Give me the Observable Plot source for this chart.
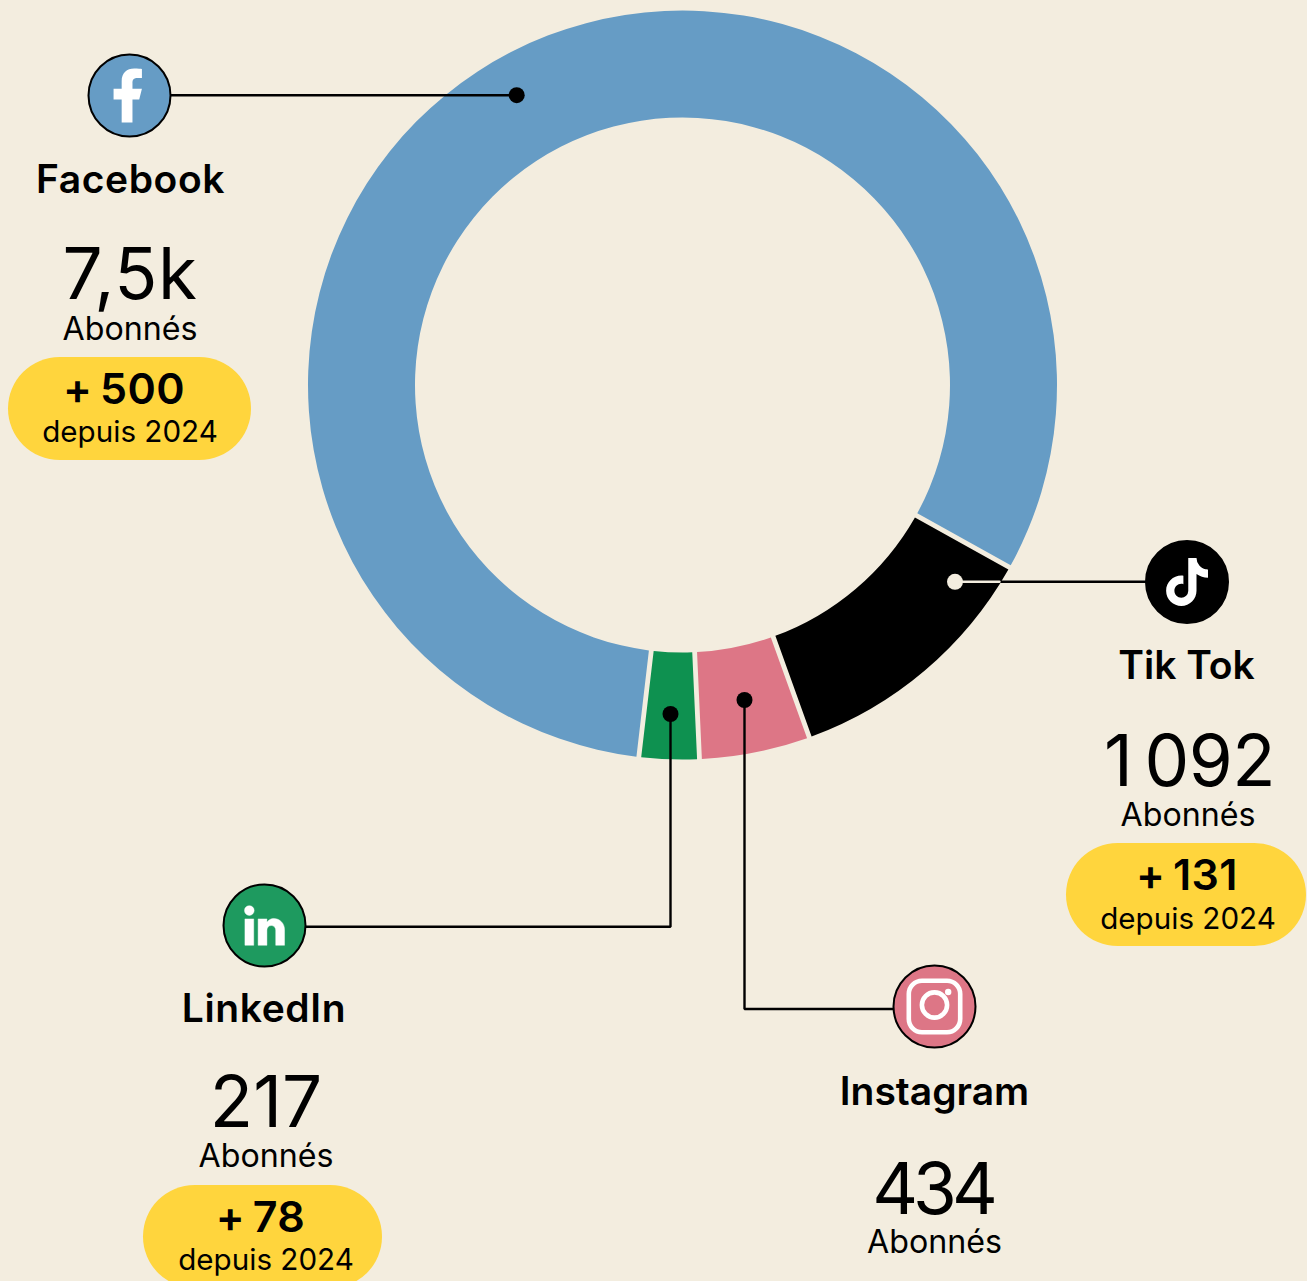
<!DOCTYPE html>
<html lang="fr">
<head>
<meta charset="utf-8">
<title>Abonnés par réseau social</title>
<script src="https://cdn.jsdelivr.net/npm/d3@7"></script>
<script src="https://cdn.jsdelivr.net/npm/@observablehq/plot@0.6"></script>
<style>
  html, body { margin: 0; padding: 0; background: #f3eddf; overflow: hidden; }
  svg { display: block; }
</style>
</head>
<body>
<div id="chart"></div>
<script>
// --- Data ---
const networks = ["Tik Tok", "Instagram", "LinkedIn", "Facebook"];
const subscribers = [1092, 434, 217, 7500];
const subscriberLabels = ["1\u2009092", "434", "217", "7,5k"];
// Share of the ring each network occupies (degrees)
const ringDegrees = [41.05, 17.2, 9.3, 292.45];
const gains = ["+\u2009131", null, "+\u200978", "+\u2009500"];
const unitLabel = "Abonnés";
const sinceLabel = "depuis 2024";

// --- Styles ---
const bg = "#f3eddf";
const ink = "#000000";
const yellow = "#ffd53d";
const sliceColors = ["#000000", "#dd7686", "#0e9150", "#669cc5"];
const iconColors = ["#000000", "#dd7686", "#1e9a5f", "#669cc5"];
const fontFamily = "Inter, 'Liberation Sans', sans-serif";
const titleTracking = [0, 0, 0.6, 0.6];
const numberTracking = [-0.6, -5, 0, 0.5];

// --- Layout (page units) ---
const W = 1307, H = 1281;
const donut = {cx: 682.5, cy: 385, outer: 374.5, inner: 267.5, start: 119.15};
const anchors = [
  {titleX: 1186.5, numberX: 1189.5, unitX: 1188, gainX: 1187, sinceX: 1188, icon: [1187, 582],     title: 679,    number: 786,  unit: 826,   gain: 889.5, since: 929,  pill: [1066.5, 1306.5, 843.5, 946.5]},
  {titleX: 934.5, numberX: 932.5, unitX: 934.5, icon: [934.5, 1006.5], title: 1105,   number: 1214, unit: 1253},
  {titleX: 264, numberX: 266, unitX: 266, gainX: 260.5, sinceX: 266, icon: [264.5, 925.5],  title: 1021.5, number: 1127, unit: 1167,  gain: 1232, since: 1270, pill: [143.5, 382.5, 1185.5, 1288.5]},
  {titleX: 130.5, numberX: 130, unitX: 130, gainX: 124, sinceX: 130, icon: [129.5, 95.5],   title: 192.5,  number: 299,  unit: 339.5, gain: 404,  since: 442,  pill: [8.5, 251.5, 357.5, 460.5]}
];
const leaders = [
  {net: "Tik Tok",   color: ink, pts: [[999.5, 581.8], [1145, 581.8]]},
  {net: "Tik Tok",   color: bg,  pts: [[955, 581.8], [999.5, 581.8]]},
  {net: "Instagram", color: ink, pts: [[744.5, 700], [744.5, 1009], [893, 1009]]},
  {net: "LinkedIn",  color: ink, pts: [[670.5, 714], [670.5, 926.8], [306, 926.8]]},
  {net: "Facebook",  color: ink, pts: [[171, 95.2], [517, 95.2]]}
];
const leaderDots = [
  {x: 955, y: 581.8, fill: bg},
  {x: 744.5, y: 700, fill: ink},
  {x: 670.5, y: 714, fill: ink},
  {x: 516.7, y: 95.2, fill: ink}
];
const glyphs = [
  {i: 0, scale: 2.67, at: [11.98, 12], parts: [{d: "M16.6 5.82s.51.5 0 0A4.278 4.278 0 0 1 15.54 3h-3.09v12.4a2.592 2.592 0 0 1-2.59 2.5c-1.42 0-2.6-1.16-2.6-2.6c0-1.72 1.66-3.01 3.37-2.48V9.66c-3.45-.46-6.47 2.22-6.47 5.64c0 3.33 2.76 5.7 5.69 5.7c3.14 0 5.69-2.55 5.69-5.7V9.01a7.35 7.35 0 0 0 4.3 1.38V7.3s-1.88.09-3.24-1.48z"}]},
  {i: 1, scale: 1, at: [0, 0], parts: [
    {d: "M-12.5 -25.7H12.5A13.2 13.2 0 0 1 25.7 -12.5V12.5A13.2 13.2 0 0 1 12.5 25.7H-12.5A13.2 13.2 0 0 1 -25.7 12.5V-12.5A13.2 13.2 0 0 1 -12.5 -25.7Z", stroke: 4.6},
    {d: "M-12.6 -1.5A12.6 12.6 0 1 0 12.6 -1.5A12.6 12.6 0 1 0 -12.6 -1.5Z", stroke: 4.6},
    {d: "M10.5 -14.5A3.2 3.2 0 1 0 16.9 -14.5A3.2 3.2 0 1 0 10.5 -14.5Z"}
  ]},
  {i: 2, scale: 2.2, at: [11.9, 12], parts: [{d: "M21 21h-4v-7c0-1.1-.9-2-2-2s-2 .9-2 2v7H9V9h4v1.5c.7-1 1.9-1.7 3-1.7 2.8 0 5 2.2 5 5V21zM3 9h4v12H3zM5 3a2.2 2.2 0 1 1 0 4.4A2.2 2.2 0 0 1 5 3z", stroke: 0.2}]},
  {i: 3, scale: 2.7, at: [12.9, 12], parts: [{d: "M14 13.5h2.5l1-4H14v-2c0-1.03 0-2 2-2h1.5V2.14c-.326-.043-1.557-.14-2.857-.14C11.928 2 10 3.657 10 6.7v2.8H7v4h3V22h4v-8.5z"}]}
];

// --- Tables built from the lists ---
const idx = d3.range(networks.length);
const slices = d3.pie().sort(null).value(i => ringDegrees[i])
  .startAngle(donut.start * Math.PI / 180)
  .endAngle((donut.start + 360) * Math.PI / 180)(idx);
const leaderRows = leaders.flatMap((l, k) => l.pts.map(([x, y]) => ({k, x, y, color: l.color})));
const withGain = idx.filter(i => gains[i]);

// --- Custom marks using Plot's scales (Plot's half-pixel offset is added back by hand) ---
const donutMark = (index, {x, y}) => {
  const g = d3.create("svg:g");
  const rx = r => x(donut.cx + r) - x(donut.cx);
  const arc = d3.arc().innerRadius(rx(donut.inner)).outerRadius(rx(donut.outer))
    .padRadius(320).padAngle(4.8 / 320);
  g.attr("transform", `translate(${x(donut.cx) + 0.5},${y(donut.cy) + 0.5})`)
    .selectAll("path").data(slices).join("path")
    .attr("d", arc).attr("fill", d => sliceColors[d.data])
    .append("title").text(d => `${networks[d.data]} : ${subscribers[d.data]}`);
  return g.node();
};
const glyphMark = (index, {x, y}) => {
  const g = d3.create("svg:g");
  for (const s of glyphs) {
    const [ax, ay] = anchors[s.i].icon;
    const t = g.append("g")
      .attr("transform", `translate(${x(ax) + 0.5},${y(ay) + 0.5}) scale(${s.scale}) translate(${-s.at[0]},${-s.at[1]})`);
    for (const p of s.parts) {
      const outlined = p.stroke && s.i === 1;
      t.append("path").attr("d", p.d)
        .attr("fill", outlined ? "none" : "#fff")
        .attr("stroke", p.stroke ? "#fff" : "none")
        .attr("stroke-width", p.stroke || 0)
        .attr("stroke-linejoin", "round");
    }
  }
  return g.node();
};

const textMark = (rows, field, xField, text, size, weight, className) =>
  Plot.text(rows, {
    x: i => anchors[i][xField],
    y: i => anchors[i][field],
    text,
    fontSize: size,
    fontWeight: weight,
    fontFamily,
    fill: ink,
    textAnchor: "middle",
    lineAnchor: "bottom",
    className
  });

const chart = Plot.plot({
  width: W,
  height: H,
  margin: 0,
  style: {background: bg, overflow: "hidden"},
  x: {domain: [0, W], range: [-0.5, W - 0.5], axis: null},
  y: {domain: [0, H], range: [-0.5, H - 0.5], axis: null},
  marks: [
    donutMark,
    Plot.line(leaderRows, {x: "x", y: "y", z: "k", stroke: "color", strokeWidth: 2.4, curve: "linear", strokeLinejoin: "miter"}),
    Plot.dot(leaderDots, {x: "x", y: "y", r: 8, fill: "fill", stroke: null}),
    Plot.dot(idx, {
      x: i => anchors[i].icon[0], y: i => anchors[i].icon[1], r: 41,
      fill: i => iconColors[i], stroke: ink, strokeWidth: 2
    }),
    glyphMark,
    Plot.rect(withGain, {
      x1: i => anchors[i].pill[0], x2: i => anchors[i].pill[1],
      y1: i => anchors[i].pill[2], y2: i => anchors[i].pill[3],
      fill: yellow, rx: 51.5
    }),
    textMark(idx, "title", "titleX", i => networks[i], 39, 600, "net-title"),
    textMark(idx, "number", "numberX", i => subscriberLabels[i], 71, 400, "net-number"),
    textMark(idx, "unit", "unitX", () => unitLabel, 32.2, 400, "net-unit"),
    textMark(withGain, "gain", "gainX", i => gains[i], 43, 600, "net-gain"),
    textMark(withGain, "since", "sinceX", () => sinceLabel, 29.6, 400, "net-since")
  ]
});
d3.select(chart).selectAll("g.net-title text").style("letter-spacing", (d, k) => titleTracking[k] + "px");
d3.select(chart).selectAll("g.net-number text").style("letter-spacing", (d, k) => numberTracking[k] + "px");
d3.select(chart).selectAll("g.net-gain text").style("letter-spacing", "0.4px");
document.getElementById("chart").append(chart);
</script>
</body>
</html>
